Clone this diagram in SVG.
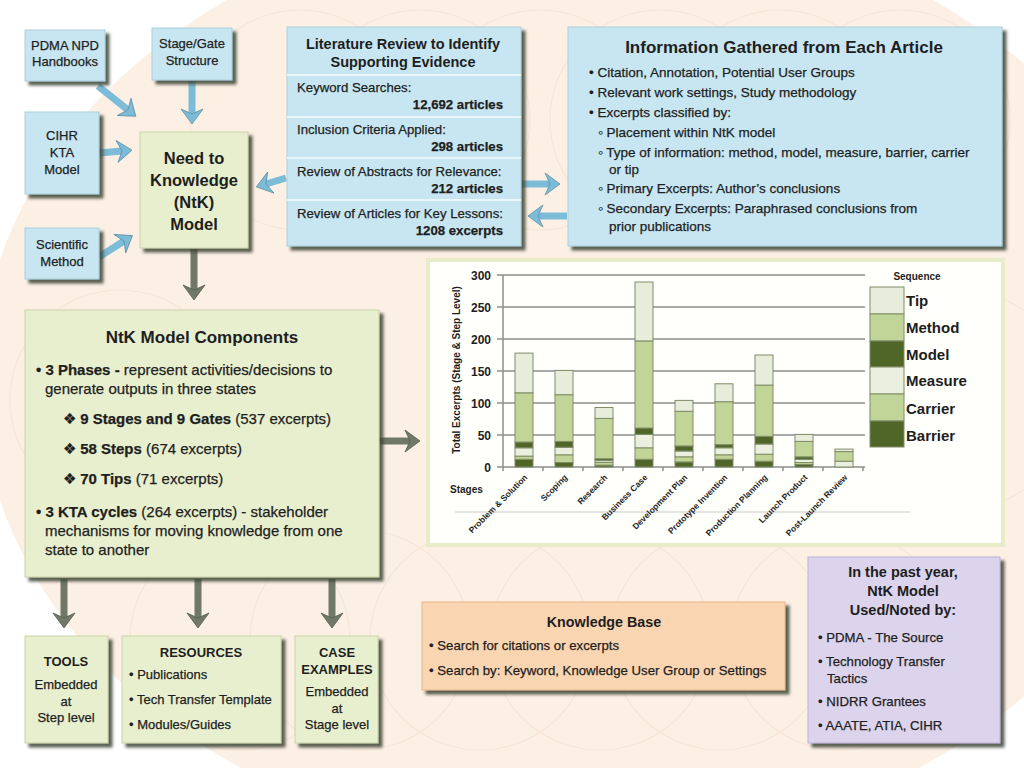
<svg xmlns="http://www.w3.org/2000/svg" width="1024" height="768" viewBox="0 0 1024 768">
<style>
svg{font-size:13px}
text{font-family:"Liberation Sans",Arial,sans-serif;fill:#1e1e1e}
.b{font-weight:bold}
.t{stroke:#1e1e1e;stroke-width:0.25}
.tc{text-anchor:middle}
.te{text-anchor:end}
.f132{font-size:13.2px}
.f135{font-size:13.5px}
.f15{font-size:15px}
.blue{fill:#c7e6f1;stroke:#a9cfdc;stroke-width:1}
.green{fill:#e8efcf;stroke:#c9d3a8;stroke-width:1}
.peach{fill:#fad5b1;stroke:#e2b88f;stroke-width:1}
.purple{fill:#dcd4ec;stroke:#bdb2d4;stroke-width:1}
.ab{fill:none;stroke:#7dbcd8;stroke-width:7}
.ag{fill:none;stroke:#707868;stroke-width:7}
.sep{stroke:#f4fbfd;stroke-width:1.5}
.grid{stroke:#8e8e8e;stroke-width:1.5}
.sTip{fill:#e8ecda;stroke:#7f8c67;stroke-width:1}
.sMe{fill:#c2d598;stroke:#7f8c67;stroke-width:1}
.sMo{fill:#4f6628;stroke:#7f8c67;stroke-width:1}
.sMs{fill:#eaefdf;stroke:#7f8c67;stroke-width:1}
.sC{fill:#c2d598;stroke:#7f8c67;stroke-width:1}
.sB{fill:#4f6628;stroke:#7f8c67;stroke-width:1}
.cat{font-size:8.5px;font-weight:bold;text-anchor:end}
.ytick{font-size:12px;font-weight:bold;text-anchor:end}
.leg{font-size:15px;font-weight:bold}
</style>
<defs>
<filter id="sh" x="-10%" y="-10%" width="130%" height="130%">
<feDropShadow dx="4" dy="4" stdDeviation="1.4" flood-color="#3e4436" flood-opacity="0.85"/>
</filter>
<marker id="mb" viewBox="-2 -13 22 26" markerWidth="22" markerHeight="26" refX="5" refY="0" orient="auto" markerUnits="userSpaceOnUse">
<path d="M0,-11 L15,0 L0,11 L5,0 Z" fill="#7dbcd8" stroke="#5f8fa6" stroke-width="0.8"/>
</marker>
<marker id="mg" viewBox="-2 -13 22 26" markerWidth="22" markerHeight="26" refX="5" refY="0" orient="auto" markerUnits="userSpaceOnUse">
<path d="M0,-11 L15,0 L0,11 L5,0 Z" fill="#707868" stroke="#575d50" stroke-width="0.8"/>
</marker>
</defs>

<!-- background -->
<rect width="1024" height="768" fill="#ffffff"/>
<ellipse cx="580" cy="380" rx="600" ry="470" fill="#fcefe4"/>
<g fill="none" stroke="#f1d9c6" stroke-width="1.2" opacity="0.45">
<circle cx="300" cy="120" r="110"/>
<circle cx="420" cy="120" r="110"/>
<circle cx="540" cy="120" r="110"/>
<circle cx="660" cy="120" r="110"/>
<circle cx="780" cy="120" r="110"/>
<circle cx="900" cy="120" r="110"/>
<circle cx="240" cy="640" r="110"/>
<circle cx="360" cy="640" r="110"/>
<circle cx="480" cy="640" r="110"/>
<circle cx="600" cy="640" r="110"/>
<circle cx="720" cy="640" r="110"/>
<circle cx="840" cy="640" r="110"/>
<circle cx="120" cy="400" r="110"/>
<circle cx="960" cy="400" r="110"/>
</g>

<!-- connectors -->
<g id="connectors">
<line class="ab" x1="98" y1="86" x2="128" y2="110" marker-end="url(#mb)"/>
<line class="ab" x1="192" y1="81" x2="192" y2="114" marker-end="url(#mb)"/>
<line class="ab" x1="99" y1="153" x2="122" y2="151" marker-end="url(#mb)"/>
<line class="ab" x1="99" y1="257" x2="124" y2="241" marker-end="url(#mb)"/>
<line class="ab" x1="286" y1="178" x2="266" y2="184" marker-end="url(#mb)"/>
<line class="ab" x1="521" y1="184" x2="550" y2="184" marker-end="url(#mb)"/>
<line class="ab" x1="567" y1="216" x2="538" y2="216" marker-end="url(#mb)"/>
<line class="ag" x1="194" y1="249" x2="194" y2="290" marker-end="url(#mg)"/>
<line class="ag" x1="379" y1="441" x2="410" y2="441" marker-end="url(#mg)"/>
<line class="ag" x1="64" y1="579" x2="64" y2="618" marker-end="url(#mg)"/>
<line class="ag" x1="198" y1="579" x2="198" y2="618" marker-end="url(#mg)"/>
<line class="ag" x1="332" y1="579" x2="332" y2="618" marker-end="url(#mg)"/>
</g>

<!-- small input boxes -->
<g id="pdma">
<rect class="blue" x="25" y="30" width="80" height="51" filter="url(#sh)"/>
<text class="t tc" x="65" y="50">PDMA NPD</text>
<text class="t tc" x="65" y="66">Handbooks</text>
</g>
<g id="stagegate">
<rect class="blue" x="152" y="28" width="80" height="52" filter="url(#sh)"/>
<text class="t tc" x="192" y="48">Stage/Gate</text>
<text class="t tc" x="192" y="65">Structure</text>
</g>
<g id="cihr">
<rect class="blue" x="25" y="112" width="74" height="82" filter="url(#sh)"/>
<text class="t tc" x="62" y="140">CIHR</text>
<text class="t tc" x="62" y="157">KTA</text>
<text class="t tc" x="62" y="174">Model</text>
</g>
<g id="scientific">
<rect class="blue" x="25" y="228" width="74" height="51" filter="url(#sh)"/>
<text class="t tc" x="62" y="249">Scientific</text>
<text class="t tc" x="62" y="266">Method</text>
</g>

<!-- NtK model -->
<g id="ntk">
<rect class="green" x="140" y="132" width="108" height="116" filter="url(#sh)"/>
<text class="b tc" x="194" y="164" font-size="16.5">Need to</text>
<text class="b tc" x="194" y="186" font-size="16.5">Knowledge</text>
<text class="b tc" x="194" y="208" font-size="16.5">(NtK)</text>
<text class="b tc" x="194" y="230" font-size="16.5">Model</text>
</g>

<!-- Literature review -->
<g id="litreview">
<rect class="blue" x="287" y="27" width="234" height="219" filter="url(#sh)"/>
<text class="b tc" x="403" y="49" font-size="14.5">Literature Review to Identify</text>
<text class="b tc" x="403" y="67" font-size="14.5">Supporting Evidence</text>
<line class="sep" x1="287" y1="75" x2="521" y2="75"/>
<line class="sep" x1="287" y1="117" x2="521" y2="117"/>
<line class="sep" x1="287" y1="158" x2="521" y2="158"/>
<line class="sep" x1="287" y1="200" x2="521" y2="200"/>
<text class="t f132" x="297" y="92">Keyword Searches:</text>
<text class="t te b f132" x="503" y="109">12,692 articles</text>
<text class="t f132" x="297" y="134">Inclusion Criteria Applied:</text>
<text class="t te b f132" x="503" y="151">298 articles</text>
<text class="t f132" x="297" y="176">Review of Abstracts for Relevance:</text>
<text class="t te b f132" x="503" y="193">212 articles</text>
<text class="t f132" x="297" y="218">Review of Articles for Key Lessons:</text>
<text class="t te b f132" x="503" y="235">1208 excerpts</text>
</g>

<!-- Information gathered -->
<g id="infogathered">
<rect class="blue" x="568" y="27" width="434" height="219" filter="url(#sh)"/>
<text class="b tc" x="784" y="53" font-size="17">Information Gathered from Each Article</text>
<text class="t f135" x="589" y="77">• Citation, Annotation, Potential User Groups</text>
<text class="t f135" x="589" y="97">• Relevant work settings, Study methodology</text>
<text class="t f135" x="589" y="117">• Excerpts classified by:</text>
<text class="t f135" x="598" y="137">◦ Placement within NtK model</text>
<text class="t f135" x="598" y="157">◦ Type of information: method, model, measure, barrier, carrier</text>
<text class="t f135" x="609" y="174">or tip</text>
<text class="t f135" x="598" y="193">◦ Primary Excerpts: Author’s conclusions</text>
<text class="t f135" x="598" y="213">◦ Secondary Excerpts: Paraphrased conclusions from</text>
<text class="t f135" x="609" y="231">prior publications</text>
</g>

<!-- Components -->
<g id="components">
<rect class="green" x="25" y="310" width="354" height="267" filter="url(#sh)"/>
<text class="b tc" x="202" y="343" font-size="17">NtK Model Components</text>
<text x="36" y="375" class="t f15"><tspan class="b">• 3 Phases - </tspan>represent activities/decisions to</text>
<text x="45" y="394" class="t f15">generate outputs in three states</text>
<text x="63" y="424" class="t f15">❖ <tspan class="b">9 Stages and 9 Gates</tspan> (537 excerpts)</text>
<text x="63" y="454" class="t f15">❖ <tspan class="b">58 Steps</tspan> (674 excerpts)</text>
<text x="63" y="484" class="t f15">❖ <tspan class="b">70 Tips</tspan> (71 excerpts)</text>
<text x="36" y="517" class="t f15"><tspan class="b">• 3 KTA cycles</tspan> (264 excerpts) - stakeholder</text>
<text x="45" y="536" class="t f15">mechanisms for moving knowledge from one</text>
<text x="45" y="555" class="t f15">state to another</text>
</g>

<!-- bottom boxes -->
<g id="tools">
<rect class="green" x="25" y="636" width="83" height="107" filter="url(#sh)"/>
<text class="b tc" x="66" y="666">TOOLS</text>
<text class="t tc" x="66" y="689">Embedded</text>
<text class="t tc" x="66" y="706">at</text>
<text class="t tc" x="66" y="722">Step level</text>
</g>
<g id="resources">
<rect class="green" x="122" y="636" width="159" height="107" filter="url(#sh)"/>
<text class="b tc" x="201" y="657">RESOURCES</text>
<text class="t" x="129" y="679">• Publications</text>
<text class="t" x="129" y="704">• Tech Transfer Template</text>
<text class="t" x="129" y="729">• Modules/Guides</text>
</g>
<g id="cases">
<rect class="green" x="295" y="636" width="83" height="107" filter="url(#sh)"/>
<text class="b tc" x="337" y="657">CASE</text>
<text class="b tc" x="337" y="674">EXAMPLES</text>
<text class="t tc" x="337" y="696">Embedded</text>
<text class="t tc" x="337" y="713">at</text>
<text class="t tc" x="337" y="729">Stage level</text>
</g>

<!-- Knowledge base -->
<g id="knowledgebase">
<rect class="peach" x="422" y="602" width="363" height="88" filter="url(#sh)"/>
<text class="b tc" x="604" y="627" font-size="14.3">Knowledge Base</text>
<text class="t f132" x="429" y="650">• Search for citations or excerpts</text>
<text class="t f132" x="429" y="675">• Search by: Keyword, Knowledge User Group or Settings</text>
</g>

<!-- Used by -->
<g id="usedby">
<rect class="purple" x="808" y="557" width="192" height="186" filter="url(#sh)"/>
<text class="b tc" x="903" y="577" font-size="14.5">In the past year,</text>
<text class="b tc" x="903" y="596" font-size="14.5">NtK Model</text>
<text class="b tc" x="903" y="615" font-size="14.5">Used/Noted by:</text>
<text class="t f132" x="818" y="642">• PDMA - The Source</text>
<text class="t f132" x="818" y="666">• Technology Transfer</text>
<text class="t f132" x="827" y="683">Tactics</text>
<text class="t f132" x="818" y="706">• NIDRR Grantees</text>
<text class="t f132" x="818" y="730">• AAATE, ATIA, CIHR</text>
</g>

<!-- Chart -->
<g id="chart">
<rect x="428" y="260" width="575" height="285" fill="#fffffb" stroke="#e7edc9" stroke-width="4"/>
<line x1="455" y1="512" x2="910" y2="512" stroke="#c9c9c9" stroke-width="1"/>
<g>
<line class="grid" x1="497" y1="275" x2="865" y2="275"/>
<line class="grid" x1="497" y1="307" x2="865" y2="307"/>
<line class="grid" x1="497" y1="339" x2="865" y2="339"/>
<line class="grid" x1="497" y1="371" x2="865" y2="371"/>
<line class="grid" x1="497" y1="403" x2="865" y2="403"/>
<line class="grid" x1="497" y1="435" x2="865" y2="435"/>
<line class="grid" x1="497" y1="467" x2="865" y2="467"/>
<line class="grid" x1="503" y1="275" x2="503" y2="471"/>
<path d="M543,467v4M583,467v4M623,467v4M663,467v4M703,467v4M743,467v4M783,467v4M823,467v4M863,467v4" stroke="#8e8e8e" stroke-width="1.5"/>
</g>
<text class="ytick" x="491" y="280">300</text>
<text class="ytick" x="491" y="312">250</text>
<text class="ytick" x="491" y="344">200</text>
<text class="ytick" x="491" y="376">150</text>
<text class="ytick" x="491" y="408">100</text>
<text class="ytick" x="491" y="440">50</text>
<text class="ytick" x="491" y="472">0</text>
<text transform="translate(460,370) rotate(-90)" text-anchor="middle" font-size="10" font-weight="bold">Total Excerpts (Stage &amp; Step Level)</text>
<text x="450" y="493" font-size="10" font-weight="bold">Stages</text>
<!-- bars: Barrier, Carrier, Measure, Model, Method, Tip -->
<g>
<rect class="sB" x="515" y="459.3" width="18" height="7.7"/><rect class="sC" x="515" y="456.1" width="18" height="3.2"/><rect class="sMs" x="515" y="447.8" width="18" height="8.3"/><rect class="sMo" x="515" y="442.0" width="18" height="5.8"/><rect class="sMe" x="515" y="392.8" width="18" height="49.2"/><rect class="sTip" x="515" y="353.1" width="18" height="39.7"/>
<rect class="sB" x="555" y="462.5" width="18" height="4.5"/><rect class="sC" x="555" y="454.8" width="18" height="7.7"/><rect class="sMs" x="555" y="447.2" width="18" height="7.6"/><rect class="sMo" x="555" y="441.4" width="18" height="5.8"/><rect class="sMe" x="555" y="394.7" width="18" height="46.7"/><rect class="sTip" x="555" y="370.4" width="18" height="24.3"/>
<rect class="sB" x="595" y="465.1" width="18" height="1.9"/><rect class="sC" x="595" y="462.5" width="18" height="2.6"/><rect class="sMs" x="595" y="460.6" width="18" height="1.9"/><rect class="sMo" x="595" y="458.7" width="18" height="1.9"/><rect class="sMe" x="595" y="418.4" width="18" height="40.3"/><rect class="sTip" x="595" y="407.5" width="18" height="10.9"/>
<rect class="sB" x="635" y="459.3" width="18" height="7.7"/><rect class="sC" x="635" y="447.8" width="18" height="11.5"/><rect class="sMs" x="635" y="434.4" width="18" height="13.4"/><rect class="sMo" x="635" y="428.0" width="18" height="6.4"/><rect class="sMe" x="635" y="340.9" width="18" height="87.1"/><rect class="sTip" x="635" y="282.0" width="18" height="58.9"/>
<rect class="sB" x="675" y="461.9" width="18" height="5.1"/><rect class="sC" x="675" y="456.8" width="18" height="5.1"/><rect class="sMs" x="675" y="451.0" width="18" height="5.8"/><rect class="sMo" x="675" y="445.9" width="18" height="5.1"/><rect class="sMe" x="675" y="411.3" width="18" height="34.6"/><rect class="sTip" x="675" y="400.4" width="18" height="10.9"/>
<rect class="sB" x="715" y="459.3" width="18" height="7.7"/><rect class="sC" x="715" y="454.8" width="18" height="4.5"/><rect class="sMs" x="715" y="447.8" width="18" height="7.0"/><rect class="sMo" x="715" y="444.6" width="18" height="3.2"/><rect class="sMe" x="715" y="401.7" width="18" height="42.9"/><rect class="sTip" x="715" y="383.8" width="18" height="17.9"/>
<rect class="sB" x="755" y="461.2" width="18" height="5.8"/><rect class="sC" x="755" y="454.2" width="18" height="7.0"/><rect class="sMs" x="755" y="444.0" width="18" height="10.2"/><rect class="sMo" x="755" y="436.3" width="18" height="7.7"/><rect class="sMe" x="755" y="385.1" width="18" height="51.2"/><rect class="sTip" x="755" y="355.0" width="18" height="30.1"/>
<rect class="sB" x="795" y="464.4" width="18" height="2.6"/><rect class="sC" x="795" y="462.5" width="18" height="1.9"/><rect class="sMs" x="795" y="459.3" width="18" height="3.2"/><rect class="sMo" x="795" y="456.8" width="18" height="2.5"/><rect class="sMe" x="795" y="441.4" width="18" height="15.4"/><rect class="sTip" x="795" y="434.4" width="18" height="7.0"/>
<rect class="sMs" x="835" y="461.2" width="18" height="5.8"/><rect class="sMe" x="835" y="451.6" width="18" height="9.6"/><rect class="sTip" x="835" y="449.1" width="18" height="2.5"/>
</g>
<text class="cat" transform="translate(528,478) rotate(-45)">Problem &amp; Solution</text>
<text class="cat" transform="translate(568,478) rotate(-45)">Scoping</text>
<text class="cat" transform="translate(608,478) rotate(-45)">Research</text>
<text class="cat" transform="translate(648,478) rotate(-45)">Business Case</text>
<text class="cat" transform="translate(688,478) rotate(-45)">Development Plan</text>
<text class="cat" transform="translate(728,478) rotate(-45)">Prototype Invention</text>
<text class="cat" transform="translate(768,478) rotate(-45)">Production Planning</text>
<text class="cat" transform="translate(808,478) rotate(-45)">Launch Product</text>
<text class="cat" transform="translate(848,478) rotate(-45)">Post-Launch Review</text>
<!-- legend -->
<text x="917" y="280" font-size="10" font-weight="bold" text-anchor="middle">Sequence</text>
<rect class="sTip" x="870" y="287" width="34" height="27"/>
<rect class="sMe" x="870" y="314" width="34" height="27"/>
<rect class="sMo" x="870" y="341" width="34" height="26"/>
<rect class="sMs" x="870" y="367" width="34" height="27"/>
<rect class="sC" x="870" y="394" width="34" height="27"/>
<rect class="sB" x="870" y="421" width="34" height="26"/>
<text class="leg" x="906" y="306">Tip</text>
<text class="leg" x="906" y="333">Method</text>
<text class="leg" x="906" y="360">Model</text>
<text class="leg" x="906" y="386">Measure</text>
<text class="leg" x="906" y="414">Carrier</text>
<text class="leg" x="906" y="441">Barrier</text>
</g>
</svg>
